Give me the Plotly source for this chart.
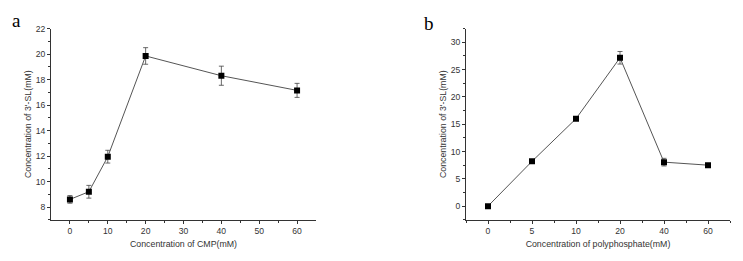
import plotly.graph_objects as go

# Panel a: CMP
cmp_conc = [0, 5, 10, 20, 40, 60]
sl_a = [8.6, 9.2, 11.95, 19.85, 18.3, 17.15]
err_a = [0.3, 0.5, 0.5, 0.65, 0.75, 0.55]

# Panel b: polyphosphate (categorical, equally spaced)
poly_labels = ["0", "5", "10", "20", "40", "60"]
sl_b = [0.0, 8.2, 16.0, 27.15, 8.05, 7.5]
err_b = [0.2, 0.3, 0.2, 1.15, 0.7, 0.3]

line_col = "#555555"
txt_col = "#333333"
font_fam = "Liberation Sans, Arial, sans-serif"

fig = go.Figure()

fig.add_trace(go.Scatter(
    x=cmp_conc, y=sl_a, mode="lines+markers",
    line=dict(color=line_col, width=1),
    marker=dict(symbol="square", size=6, color="black"),
    error_y=dict(type="data", array=err_a, visible=True, color="#444444", thickness=0.8, width=2.5),
    xaxis="x", yaxis="y", showlegend=False,
))

xb = list(range(len(poly_labels)))
fig.add_trace(go.Scatter(
    x=xb, y=sl_b, mode="lines+markers",
    line=dict(color=line_col, width=1),
    marker=dict(symbol="square", size=6, color="black"),
    error_y=dict(type="data", array=err_b, visible=True, color="#444444", thickness=0.8, width=2.5),
    xaxis="x2", yaxis="y2", showlegend=False,
))

W, H = 743, 261
ydom = [(H - 219) / H, (H - 24) / H]

axis_common = dict(
    showline=True, linecolor="#333333", linewidth=1, mirror=False,
    ticks="outside", ticklen=3, tickwidth=1, tickcolor="#333333",
    showgrid=False, zeroline=False,
    tickfont=dict(size=8.6, color=txt_col, family=font_fam),
    title_font=dict(size=8.8, color=txt_col, family=font_fam),
)

fig.update_layout(
    width=W, height=H,
    margin=dict(l=0, r=0, t=0, b=0),
    paper_bgcolor="white", plot_bgcolor="white",
    xaxis=dict(
        domain=[51 / W, 316 / W], range=[-5, 65],
        tickvals=[0, 10, 20, 30, 40, 50, 60],
        minor=dict(tickvals=[5, 15, 25, 35, 45, 55], ticks="outside", ticklen=2, tickcolor="#333333"),
        title=dict(text="Concentration of CMP(mM)", standoff=5),
        anchor="y",
        **axis_common,
    ),
    yaxis=dict(
        domain=ydom, range=[7, 22],
        tickvals=[8, 10, 12, 14, 16, 18, 20, 22],
        minor=dict(tickvals=[7, 9, 11, 13, 15, 17, 19, 21], ticks="outside", ticklen=2, tickcolor="#333333"),
        title=dict(text="Concentration of 3'-SL(mM)", standoff=2),
        anchor="x",
        **axis_common,
    ),
    xaxis2=dict(
        domain=[466 / W, 730 / W], range=[-0.5, 5.5],
        tickvals=xb, ticktext=poly_labels,
        minor=dict(tickvals=[i + 0.5 for i in range(-1, len(poly_labels))], ticks="outside", ticklen=2, tickcolor="#333333"),
        title=dict(text="Concentration of polyphosphate(mM)", standoff=5),
        anchor="y2",
        **axis_common,
    ),
    yaxis2=dict(
        domain=ydom, range=[-2.5, 32.5],
        tickvals=[0, 5, 10, 15, 20, 25, 30],
        minor=dict(tickvals=[-2.5, 2.5, 7.5, 12.5, 17.5, 22.5, 27.5, 32.5], ticks="outside", ticklen=2, tickcolor="#333333"),
        title=dict(text="Concentration of 3'-SL(mM)", standoff=2),
        anchor="x2",
        **axis_common,
    ),
    annotations=[
        dict(text="a", x=16 / W, y=(H - 16) / H, xref="paper", yref="paper",
             xanchor="center", yanchor="middle",
             showarrow=False, font=dict(size=19, family="Liberation Serif, Times New Roman, serif", color="black")),
        dict(text="b", x=429 / W, y=(H - 19) / H, xref="paper", yref="paper",
             xanchor="center", yanchor="middle",
             showarrow=False, font=dict(size=19, family="Liberation Serif, Times New Roman, serif", color="black")),
    ],
)

fig.write_html("out.html", config={"displayModeBar": False},
               post_script="document.body.style.margin='0';document.body.style.overflow='hidden';")
